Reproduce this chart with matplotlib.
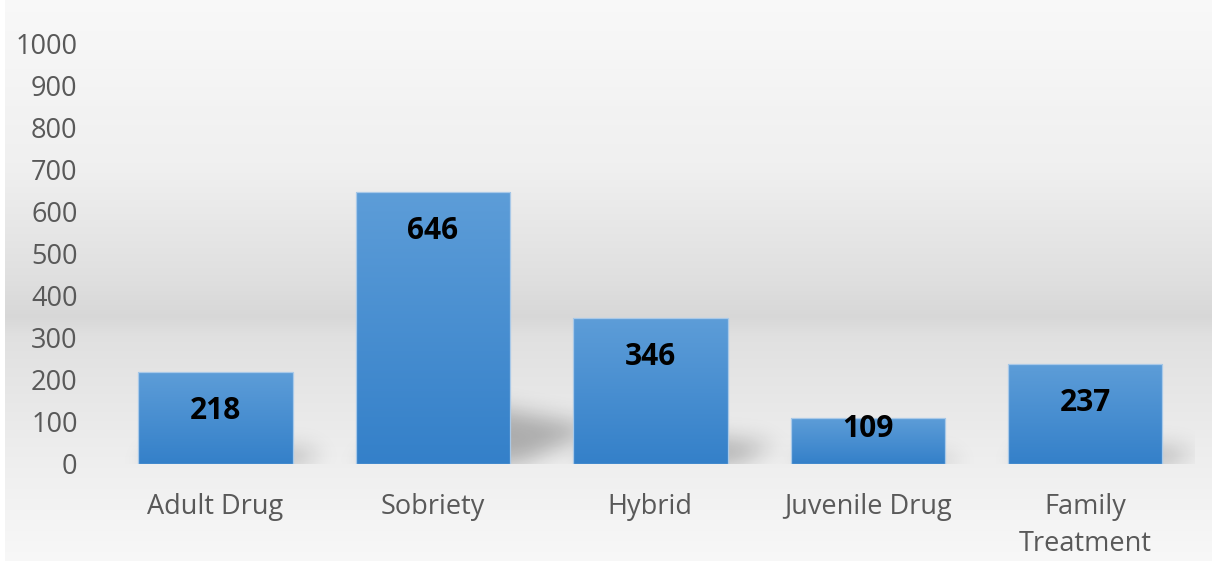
import numpy as np
import matplotlib
matplotlib.use("Agg")
import matplotlib.pyplot as plt
from matplotlib.path import Path

categories = ["Adult Drug", "Sobriety", "Hybrid", "Juvenile Drug", "Family\nTreatment"]
values = [218, 646, 346, 109, 237]
y_ticks = [0, 100, 200, 300, 400, 500, 600, 700, 800, 900, 1000]

# label offsets (points) below each bar top
label_offsets = [-28, -28, -28, -8, -28]

W, H, DPI = 12.12, 5.61, 100
fig = plt.figure(figsize=(W, H), dpi=DPI)
fig.patch.set_facecolor("white")

# background panel with a soft vertical grey gradient
bg = fig.add_axes([5 / 1212, 0, 1 - 5 / 1212, 1], zorder=-10)
stops = np.array([[0.0, 0.975], [0.30, 0.94], [0.50, 0.875], [0.565, 0.845],
                  [0.60, 0.88], [0.80, 0.93], [1.0, 0.972]])
t = np.linspace(0, 1, 600)
g = np.interp(t, stops[:, 0], stops[:, 1])
bg.imshow(np.repeat(g[:, None], 2, axis=1)[:, :, None].repeat(3, axis=2),
          aspect="auto", extent=(0, 1, 0, 1), interpolation="bilinear")
bg.set_axis_off()

ax = fig.add_axes([106.75 / 1212, 97 / 561, (1194 - 106.75) / 1212, 421 / 561])
ax.patch.set_alpha(0)
ax.set_xlim(-0.5, len(values) - 0.5)
ax.set_ylim(0, 1000)

x = np.arange(len(values))
bars = ax.bar(x, values, width=0.71, color="none", edgecolor="#a9c9e8",
              linewidth=0.9, zorder=3)

# blurred perspective shadows behind the bars
nx, ny = 1088, 421
gx = (np.arange(nx) + 0.5)
gy = (np.arange(ny) + 0.5)
GX, GY = np.meshgrid(gx, gy)
pts = np.column_stack([GX.ravel(), GY.ravel()])
sx = nx / (len(values))
sy = ny / 1000.0
mask = np.zeros(nx * ny)
for r in bars:
    a = (r.get_x() + 0.5) * sx
    b = (r.get_x() + r.get_width() + 0.5) * sx
    h = r.get_height() * sy
    shear, k = 0.33 * h, 0.24 * h
    poly = Path([(a, 0), (b + 8, 0), (b + shear, k * 0.55), (a + shear, k), (a, 0)])
    mask = np.maximum(mask, poly.contains_points(pts).astype(float))
mask = mask.reshape(ny, nx)


def blur(img, sigma):
    rad = int(3 * sigma)
    kx = np.exp(-0.5 * (np.arange(-rad, rad + 1) / sigma) ** 2)
    kx /= kx.sum()
    pad = np.pad(img, rad, mode="constant")
    out = np.apply_along_axis(lambda m: np.convolve(m, kx, mode="same"), 0, pad)
    out = np.apply_along_axis(lambda m: np.convolve(m, kx, mode="same"), 1, out)
    return out[rad:-rad, rad:-rad]


mask = blur(mask, 11)
shadow = np.zeros((ny, nx, 4))
shadow[..., 3] = mask * 0.27
ax.imshow(shadow, origin="lower", extent=(-0.5, len(values) - 0.5, 0, 1000),
          aspect="auto", zorder=1, interpolation="bilinear")

# vertical blue gradient fill for each bar
top_c = np.array([93, 157, 216]) / 255
bot_c = np.array([52, 128, 201]) / 255
grad = np.linspace(0, 1, 256)[:, None]
for r in bars:
    cols = bot_c + (top_c - bot_c) * grad
    img = np.repeat(cols[:, None, :], 2, axis=1)
    ax.imshow(img, origin="lower", aspect="auto", zorder=2,
              extent=(r.get_x(), r.get_x() + r.get_width(), 0, r.get_height()),
              interpolation="bilinear")

for r, v, off in zip(bars, values, label_offsets):
    ax.annotate(f"{v}", (r.get_x() + r.get_width() / 2, v),
                xytext=(0, off), textcoords="offset points",
                ha="center", va="center", fontsize=21.5, fontweight="bold",
                family="Open Sans", color="black", zorder=5)

ax.set_xlim(-0.5, len(values) - 0.5)
ax.set_ylim(0, 1000)
ax.set_yticks(y_ticks)
ax.set_yticklabels([str(v) for v in y_ticks])
ax.set_xticks(x)
ax.set_xticklabels(categories, linespacing=1.4)
for s in ax.spines.values():
    s.set_visible(False)
ax.tick_params(axis="both", length=0, colors="#595959", labelsize=19.5)
ax.tick_params(axis="y", pad=21)
ax.tick_params(axis="x", pad=21)
for lab in ax.get_xticklabels() + ax.get_yticklabels():
    lab.set_family("Open Sans")
    lab.set_color("#595959")

fig.savefig("out.png", dpi=DPI)
